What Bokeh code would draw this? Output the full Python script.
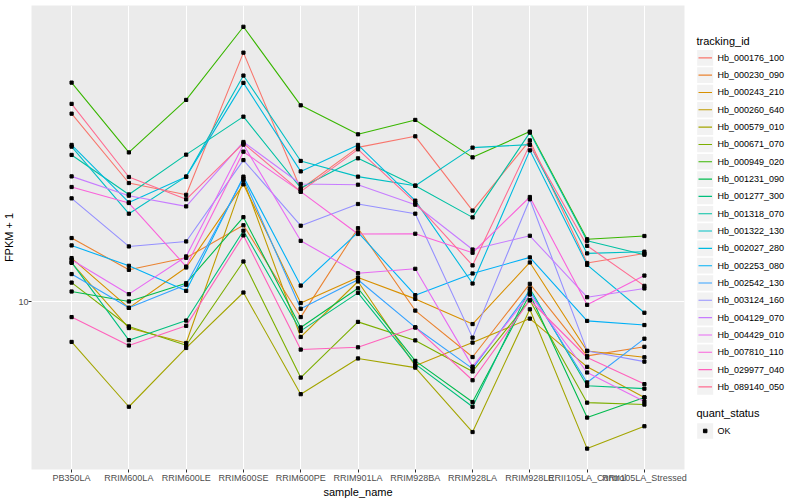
from bokeh.plotting import figure
from bokeh.models import Range1d, FixedTicker, FactorRange, BasicTickFormatter
from bokeh.layouts import row
from bokeh.embed import file_html
from bokeh.resources import INLINE
from bokeh.core.properties import value

samples = ["PB350LA", "RRIM600LA", "RRIM600LE", "RRIM600SE", "RRIM600PE", "RRIM901LA",
           "RRIM928BA", "RRIM928LA", "RRIM928LE", "RRII105LA_Control", "RRII105LA_Stressed"]

tracking_ids = ["Hb_000176_100", "Hb_000230_090", "Hb_000243_210", "Hb_000260_640", "Hb_000579_010",
                "Hb_000671_070", "Hb_000949_020", "Hb_001231_090", "Hb_001277_300", "Hb_001318_070",
                "Hb_001322_130", "Hb_002027_280", "Hb_002253_080", "Hb_002542_130", "Hb_003124_160",
                "Hb_004129_070", "Hb_004429_010", "Hb_007810_110", "Hb_029977_040", "Hb_089140_050"]

hb_000176_100 = [29.5, 19.8, 18.5, 41.9, 19.1, 24.3, 25.9, 16.9, 25.3, 12.5, 13.2]
hb_000230_090 = [14.43, 12.02, 12.88, 15.53, 9.16, 15.27, 9.51, 7.28, 11.09, 7.33, 7.72]
hb_000243_210 = [12.86, 9.66, 12.18, 19.65, 9.93, 11.50, 10.17, 8.80, 12.54, 7.54, 7.27]
hb_000260_640 = [12.51, 8.60, 7.89, 20.13, 8.17, 11.24, 6.92, 7.91, 9.08, 6.88, 5.77]
hb_000579_010 = [7.94, 5.47, 7.67, 10.55, 5.88, 7.22, 6.85, 4.73, 9.58, 4.30, 4.89]
hb_000671_070 = [11.17, 8.68, 7.79, 12.61, 6.47, 8.91, 8.01, 6.70, 10.09, 5.60, 5.54]
hb_000949_020 = [35.27, 23.61, 31.93, 48.62, 30.95, 26.20, 28.46, 22.95, 26.61, 14.33, 14.60]
hb_001231_090 = [10.61, 10.02, 11.13, 16.27, 8.63, 10.81, 7.12, 5.62, 10.44, 5.14, 5.77]
hb_001277_300 = [12.55, 8.02, 8.98, 15.05, 8.46, 10.53, 6.99, 5.47, 10.80, 6.17, 6.07]
hb_001318_070 = [23.27, 18.54, 23.31, 29.00, 19.24, 22.82, 19.50, 16.25, 26.46, 14.20, 13.11]
hb_001322_130 = [24.41, 16.60, 20.54, 36.73, 22.48, 20.54, 19.50, 24.27, 24.69, 13.21, 13.34]
hb_002027_280 = [24.65, 17.71, 20.54, 35.21, 21.17, 24.65, 17.89, 11.11, 23.89, 12.37, 9.39]
hb_002253_080 = [13.83, 12.30, 10.65, 20.54, 10.98, 14.90, 10.39, 11.77, 12.91, 8.96, 8.75]
hb_002542_130 = [11.73, 9.66, 11.03, 20.34, 9.61, 11.35, 8.63, 6.81, 10.65, 6.29, 8.09]
hb_003124_160 = [18.13, 13.75, 14.15, 22.59, 15.49, 17.55, 16.60, 8.14, 18.03, 7.54, 7.09]
hb_004129_070 = [20.57, 18.41, 17.31, 25.07, 19.69, 19.61, 17.48, 13.51, 14.62, 10.27, 10.80]
hb_004429_010 = [12.74, 10.45, 12.98, 24.69, 14.20, 11.79, 12.09, 6.89, 10.44, 6.66, 5.64]
hb_007810_110 = [19.35, 17.65, 12.25, 23.71, 18.84, 14.77, 14.79, 13.26, 18.27, 9.83, 11.63]
hb_029977_040 = [9.16, 7.78, 8.71, 14.65, 7.60, 7.70, 8.63, 6.37, 10.09, 7.26, 6.23]
hb_089140_050 = [31.21, 20.50, 18.03, 24.87, 18.84, 24.03, 17.68, 12.33, 24.69, 13.80, 10.96]

series_values = [hb_000176_100, hb_000230_090, hb_000243_210, hb_000260_640, hb_000579_010,
                 hb_000671_070, hb_000949_020, hb_001231_090, hb_001277_300, hb_001318_070,
                 hb_001322_130, hb_002027_280, hb_002253_080, hb_002542_130, hb_003124_160,
                 hb_004129_070, hb_004429_010, hb_007810_110, hb_029977_040, hb_089140_050]

quant_status = ["OK"]

palette = ["#F8766D", "#EA8331", "#D89000", "#C09B00", "#A3A500", "#7CAE00", "#39B600", "#00BB4E",
           "#00BF7D", "#00C1A3", "#00BFC4", "#00BAE0", "#00B0F6", "#35A2FF", "#9590FF", "#C77CFF",
           "#E76BF3", "#FA62DB", "#FF62BC", "#FF6C91"]

FONT = "Liberation Sans"
Y_LO, Y_HI = 3.813, 54.95
PW, LW, H = 688, 112, 500

p = figure(width=PW, height=H,
           x_range=FactorRange(factors=samples, range_padding=0.2, range_padding_units="absolute"),
           y_axis_type="log", y_range=Range1d(Y_LO, Y_HI),
           output_backend="svg", toolbar_location=None,
           min_border_left=20, min_border_right=4, min_border_top=5, min_border_bottom=10,
           background_fill_color="#EBEBEB", border_fill_color="white",
           x_axis_label="sample_name", y_axis_label="FPKM + 1")
p.outline_line_color = None

for vals, col in zip(series_values, palette):
    p.line(x=samples, y=vals, line_color=col, line_width=1.1)
for vals in series_values:
    p.scatter(x=samples, y=vals, marker="square", size=3.2, fill_color="black", line_color="black")

p.yaxis.ticker = FixedTicker(ticks=[10])
p.yaxis.formatter = BasicTickFormatter()
p.xgrid.grid_line_color = "white"
p.ygrid.grid_line_color = "white"
p.xgrid.grid_line_width = 1.1
p.ygrid.grid_line_width = 1.1
p.ygrid.minor_grid_line_color = None

for ax in p.axis:
    ax.axis_line_color = None
    ax.major_tick_line_color = "#333333"
    ax.major_tick_out = 3
    ax.major_tick_in = 0
    ax.minor_tick_line_color = None
    ax.major_label_text_font = FONT
    ax.major_label_text_font_size = "9px"
    ax.major_label_text_color = "#4D4D4D"
    ax.major_label_text_line_height = 1.0
    ax.major_label_standoff = 0
    ax.axis_label_text_font = FONT
    ax.axis_label_text_font_size = "11px"
    ax.axis_label_text_font_style = "normal"
    ax.axis_label_text_color = "black"
    ax.axis_label_text_line_height = 1.0
    ax.axis_label_standoff = 0

# legend panel, sharing the value scale of the main panel
q = figure(width=LW, height=H, x_range=Range1d(0, LW), y_range=p.y_range, y_axis_type="log",
           output_backend="svg", toolbar_location=None, min_border=0,
           x_axis_location=None, y_axis_location=None, background_fill_color="white",
           border_fill_color="white")
q.outline_line_color = None
q.grid.visible = False


def ypos(px):
    # vertical legend placement, expressed on the shared log scale
    return 10 ** (1.7525 - px / 400.0)


n = len(tracking_ids)
rows_px = [57.3 + 17.3 * i for i in range(n)]
ys = [ypos(v) for v in rows_px]
q.text(x=[8], y=[ypos(40)], text=["tracking_id"], text_font=value(FONT), text_font_size="11px",
       text_baseline="middle", text_align="left", text_color="black")
q.quad(left=8.7, right=24.7, top=[ypos(v - 7.8) for v in rows_px],
       bottom=[ypos(v + 7.8) for v in rows_px], fill_color="#F2F2F2", line_color=None)
q.segment(x0=10, x1=23.5, y0=ys, y1=ys, line_color=palette[:n], line_width=1.1)
q.text(x=[29] * n, y=ys, text=tracking_ids, text_font=value(FONT), text_font_size="9px",
       text_baseline="middle", text_align="left", text_color="black")

q.text(x=[8], y=[ypos(411.7)], text=["quant_status"], text_font=value(FONT), text_font_size="11px",
       text_baseline="middle", text_align="left", text_color="black")
ok_px = [430 + 17.3 * i for i in range(len(quant_status))]
yk = [ypos(v) for v in ok_px]
q.quad(left=8.7, right=24.7, top=[ypos(v - 7.8) for v in ok_px], bottom=[ypos(v + 7.8) for v in ok_px],
       fill_color="#F2F2F2", line_color=None)
q.scatter(x=[16.7] * len(yk), y=yk, marker="square", size=3.5, fill_color="black", line_color="black")
q.text(x=[29] * len(yk), y=yk, text=quant_status, text_font=value(FONT), text_font_size="9px",
       text_baseline="middle", text_align="left", text_color="black")

layout = row(p, q)
open("out.html", "w").write(file_html(layout, INLINE))
